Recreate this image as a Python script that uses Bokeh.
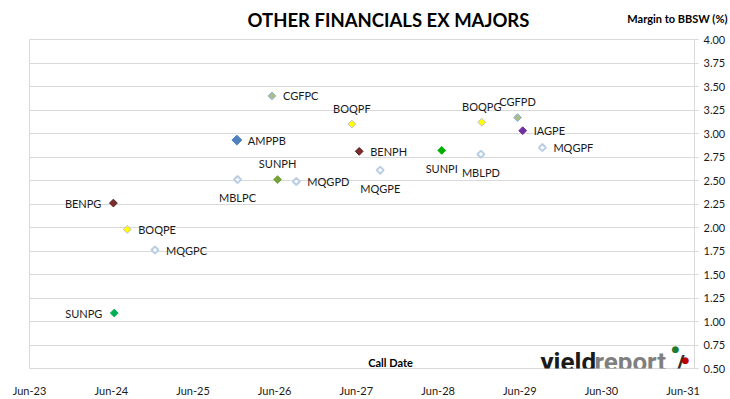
from datetime import datetime
import math
from bokeh.plotting import figure
from bokeh.core.properties import value
from bokeh.models import (ColumnDataSource, LabelSet, Label, FixedTicker,
                          DatetimeTickFormatter, Range1d, NumeralTickFormatter)
from bokeh.embed import file_html
from bokeh.resources import INLINE

# ---- data ----
names = ["CGFPC", "BOQPF", "AMPPB", "BENPH", "SUNPH", "MBLPC", "MQGPD", "BENPG", "BOQPE",
         "MQGPC", "SUNPG", "BOQPG", "CGFPD", "IAGPE", "MQGPF", "SUNPI", "MBLPD", "MQGPE"]
call_dates = ["2026-05-20", "2027-05-12", "2025-12-14", "2027-06-14", "2026-06-14", "2025-12-17",
              "2026-09-06", "2024-06-10", "2024-08-11", "2024-12-13", "2024-06-14", "2028-12-13",
              "2029-05-22", "2029-06-14", "2029-09-10", "2028-06-17", "2028-12-09", "2027-09-16"]
margins = [3.40, 3.10, 2.93, 2.81, 2.51, 2.51, 2.49, 2.26, 1.98,
           1.76, 1.09, 3.12, 3.17, 3.03, 2.85, 2.82, 2.78, 2.61]
tick_years = [2023, 2024, 2025, 2026, 2027, 2028, 2029, 2030, 2031]
y_ticks = [0.5, 0.75, 1.0, 1.25, 1.5, 1.75, 2.0, 2.25, 2.5, 2.75, 3.0, 3.25, 3.5, 3.75, 4.0]

# ---- styles ----
styles = {  # fill, line, size, line_width
    "CGFPC": ("#AEBD84", "#8DB4E2", 5.5, 1),
    "CGFPD": ("#AEBD84", "#8DB4E2", 5.5, 1),
    "BOQPE": ("#FFFF00", "#BFBFBF", 5.5, 1),
    "BOQPF": ("#FFFF00", "#BFBFBF", 5.5, 1),
    "BOQPG": ("#FFFF00", "#BFBFBF", 5.5, 1),
    "AMPPB": ("#4F81BD", "#4F81BD", 7, 1),
    "BENPG": ("#7B2C2C", "#5A1F1F", 5.5, 1),
    "BENPH": ("#7B2C2C", "#5A1F1F", 5.5, 1),
    "IAGPE": ("#7030A0", "#7030A0", 5.5, 1),
    "SUNPG": ("#00B050", "#00B050", 5.5, 1),
    "SUNPH": ("#77A33B", "#77A33B", 5.5, 1),
    "SUNPI": ("#00B000", "#00B000", 5.5, 1),
}
hollow = ("#FFFFFF", "#B9CDE5", 5, 2)
placement = {"CGFPC": "right", "BOQPF": "above", "AMPPB": "right", "BENPH": "right",
             "SUNPH": "above", "MBLPC": "below", "MQGPD": "right", "BENPG": "left",
             "BOQPE": "right", "MQGPC": "right", "SUNPG": "left", "BOQPG": "above",
             "CGFPD": "above", "IAGPE": "right", "MQGPF": "right", "SUNPI": "below",
             "MBLPD": "below", "MQGPE": "below"}
place_style = {"right": (11, 0, "left"), "left": (-12, 0, "right"),
               "above": (0, 16, "center"), "below": (0, -18, "center")}

xs = [datetime.strptime(d, "%Y-%m-%d") for d in call_dates]
fills, lines, sizes, lws, xo, yo, al = [], [], [], [], [], [], []
for n in names:
    f, l, s, w = styles.get(n, hollow)
    fills.append(f); lines.append(l); sizes.append(s); lws.append(w)
    a, b, c = place_style[placement[n]]
    xo.append(a); yo.append(b); al.append(c)

src = ColumnDataSource(dict(x=xs, y=margins, name=names, fill=fills, line=lines,
                            size=sizes, lw=lws, xo=xo, yo=yo, al=al))

FONT = "Lato"
p = figure(width=730, height=399, output_backend="svg", toolbar_location=None,
           x_axis_type="datetime", y_axis_location="right",
           x_range=Range1d(datetime(2023, 6, 1), datetime(2031, 7, 22)),
           y_range=Range1d(0.5, 4.0),
           min_border_left=29, min_border_right=36, min_border_top=39, min_border_bottom=30)
p.background_fill_color = "white"
p.border_fill_color = "white"
p.outline_line_color = "#D9D9D9"

p.xgrid.visible = False
p.ygrid.grid_line_color = "#D9D9D9"
p.ygrid.grid_line_width = 1

# x axis
xt = [datetime(y, 6, 1).timestamp() * 1000 for y in tick_years]
p.xaxis.ticker = FixedTicker(ticks=xt)
fmt = "%b-%y"
p.xaxis.formatter = DatetimeTickFormatter(days=fmt, months=fmt, years=fmt, hours=fmt,
                                          minutes=fmt, seconds=fmt, milliseconds=fmt,
                                          minsec=fmt, hourmin=fmt)
p.xaxis.axis_line_color = None
p.xaxis.major_tick_line_color = None
p.xaxis.minor_tick_line_color = None
p.xaxis.major_label_standoff = 9
p.xaxis.major_label_text_font = FONT
p.xaxis.major_label_text_font_size = "11px"
p.xaxis.major_label_text_color = "#1A1A1A"

# y axis
p.yaxis.ticker = FixedTicker(ticks=y_ticks)
p.yaxis.formatter = NumeralTickFormatter(format="0.00")
p.yaxis.axis_line_color = "#D9D9D9"
p.yaxis.major_tick_line_color = "#D9D9D9"
p.yaxis.major_tick_in = 0
p.yaxis.major_tick_out = 4
p.yaxis.minor_tick_line_color = None
p.yaxis.major_label_standoff = 5
p.yaxis.major_label_text_font = FONT
p.yaxis.major_label_text_font_size = "11px"
p.yaxis.major_label_text_color = "#1A1A1A"

p.scatter("x", "y", source=src, marker="square", angle=math.pi / 4, size="size",
          fill_color="fill", line_color="line", line_width="lw")

p.add_layout(LabelSet(x="x", y="y", text="name", source=src, x_offset="xo", y_offset="yo",
                      text_align="al", text_baseline="middle", text_font=value(FONT),
                      text_font_size="11px", text_color="#1A1A1A"))

# header texts in the top panel (not clipped by the frame)
p.add_layout(Label(x=698, y=21, x_units="screen", y_units="screen",
                   text="Margin to BBSW (%)", text_align="right",
                   text_baseline="middle", text_font=FONT, text_font_style="bold",
                   text_font_size="11px", text_color="#000000"), "above")
p.add_layout(Label(x=359, y=7, x_units="screen", y_units="screen",
                   text="OTHER FINANCIALS EX MAJORS", text_align="center",
                   text_baseline="middle", text_font=FONT, text_font_style="bold",
                   text_font_size="18.5px", text_color="#000000"), "above")

# texts inside frame (screen units relative to plot frame: 29..694 x 39..369)
p.add_layout(Label(x=361, y=6, x_units="screen", y_units="screen",
                   text="Call Date", text_align="center",
                   text_baseline="middle", text_font=FONT, text_font_style="bold",
                   text_font_size="11px", text_color="#000000"))
# logo
p.add_layout(Label(x=511, y=7, x_units="screen", y_units="screen", text="yield",
                   text_align="left", text_baseline="alphabetic", text_font="Roboto",
                   text_font_style="bold", text_font_size="26px", text_color="#1A1A1A"))
p.add_layout(Label(x=565, y=7, x_units="screen", y_units="screen", text="report",
                   text_align="left", text_baseline="alphabetic", text_font="Roboto",
                   text_font_style="bold", text_font_size="26px", text_color="#7F7F7F"))
p.add_layout(Label(x=651, y=5, x_units="screen", y_units="screen", text="/",
                   text_align="center", text_baseline="alphabetic", text_font="Roboto",
                   text_font_style="bold", text_font_size="24px", text_color="#333333"))
p.add_layout(Label(x=646, y=20, x_units="screen", y_units="screen", text="●",
                   text_align="center", text_baseline="middle", text_font="DejaVu Sans",
                   text_font_size="9px", text_color="#1E7B34"))
p.add_layout(Label(x=656, y=9, x_units="screen", y_units="screen", text="●",
                   text_align="center", text_baseline="middle", text_font="DejaVu Sans",
                   text_font_size="9px", text_color="#C00000"))

open("out.html", "w").write(file_html(p, INLINE))
